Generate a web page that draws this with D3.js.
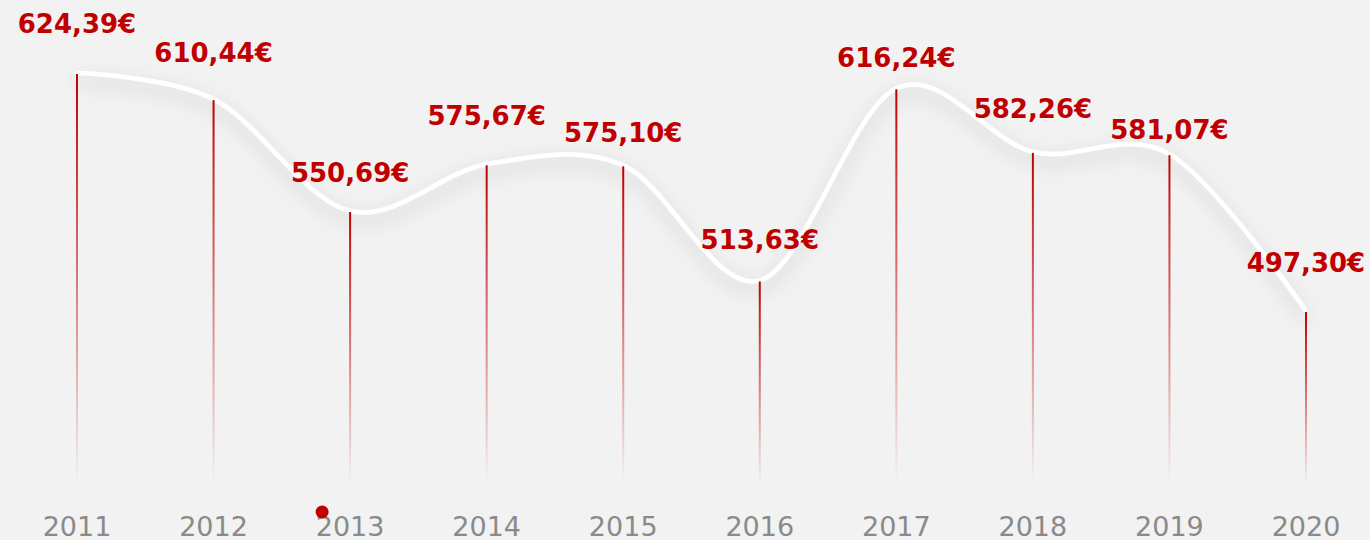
<!DOCTYPE html>
<html>
<head>
<meta charset="utf-8">
<script src="https://cdn.jsdelivr.net/npm/d3@7"></script>
<style>
    body { margin: 0; background: #f2f2f2; }
    svg { display: block; }
</style>
</head>
<body>
<div id="chart"></div>
<script>
// data
const years = ["2011", "2012", "2013", "2014", "2015", "2016", "2017", "2018", "2019", "2020"];
const prices = [624.39, 610.44, 550.69, 575.67, 575.10, 513.63, 616.24, 582.26, 581.07, 497.30];

// constants
const WIDTH = 1370;
const HEIGHT = 540;
const RED = "#c00000";
const STEM_BOTTOM = 485;
// how far each value label sits above its point
const LABEL_LIFT = [40, 37, 29, 39, 23, 31, 21, 34, 15, 39];

const svg = d3.select("#chart").append("svg")
    .attr("width", WIDTH)
    .attr("height", HEIGHT);

svg.append("rect")
    .attr("width", WIDTH)
    .attr("height", HEIGHT)
    .attr("fill", "#f2f2f2");

const defs = svg.append("defs");
const shadow = defs.append("filter")
    .attr("id", "shadow")
    .attr("x", "-10%").attr("y", "-50%")
    .attr("width", "120%").attr("height", "200%");
shadow.append("feDropShadow")
    .attr("dx", 0)
    .attr("dy", 7)
    .attr("stdDeviation", 10)
    .attr("flood-color", "#000")
    .attr("flood-opacity", 0.2);

const stemGrad = defs.append("linearGradient")
    .attr("id", "stemGrad")
    .attr("x1", 0).attr("y1", 0)
    .attr("x2", 0).attr("y2", 1);
stemGrad.append("stop").attr("offset", "0%").attr("stop-color", RED).attr("stop-opacity", 1);
stemGrad.append("stop").attr("offset", "100%").attr("stop-color", RED).attr("stop-opacity", 0);

const x = d3.scalePoint()
    .domain(years)
    .range([77, 1306]);

const y = d3.scaleLinear()
    .domain([497.30, 624.39])
    .range([311, 73]);

const points = years.map((yr, i) => ({ year: yr, value: prices[i] }));

// white curve with soft shadow
const line = d3.line()
    .x(d => x(d.year))
    .y(d => y(d.value))
    .curve(d3.curveCardinal.tension(0));

svg.append("path")
    .datum(points)
    .attr("d", line)
    .attr("fill", "none")
    .attr("stroke", "#fff")
    .attr("stroke-width", 4.5)
    .attr("stroke-linecap", "round")
    .attr("filter", "url(#shadow)");

// fading stems (rects so the bbox gradient works)
svg.selectAll(".stem")
    .data(points)
    .enter().append("rect")
    .attr("class", "stem")
    .attr("x", d => x(d.year) - 1)
    .attr("y", d => y(d.value) + 1)
    .attr("width", 2)
    .attr("height", d => STEM_BOTTOM - y(d.value) - 1)
    .attr("fill", "url(#stemGrad)");

// value labels
const fmt = v => v.toFixed(2).replace(".", ",") + "€";
svg.selectAll(".valueLabel")
    .data(points)
    .enter().append("text")
    .attr("class", "valueLabel")
    .attr("x", d => x(d.year))
    .attr("y", (d, i) => y(d.value) - LABEL_LIFT[i])
    .attr("text-anchor", "middle")
    .attr("font-family", "Verdana, 'DejaVu Sans', sans-serif")
    .attr("font-weight", "bold")
    .attr("font-size", 26)
    .attr("fill", RED)
    .text(d => fmt(d.value));

// year labels
svg.selectAll(".yearLabel")
    .data(years)
    .enter().append("text")
    .attr("class", "yearLabel")
    .attr("x", d => x(d))
    .attr("y", 536)
    .attr("text-anchor", "middle")
    .attr("font-family", "Verdana, 'DejaVu Sans', sans-serif")
    .attr("font-size", 27)
    .attr("fill", "#8a8a8a")
    .text(d => d);

// little red marker near 2013
svg.append("circle")
    .attr("cx", x("2013") - 28)
    .attr("cy", 512)
    .attr("r", 6.5)
    .attr("fill", RED);
</script>
</body>
</html>
